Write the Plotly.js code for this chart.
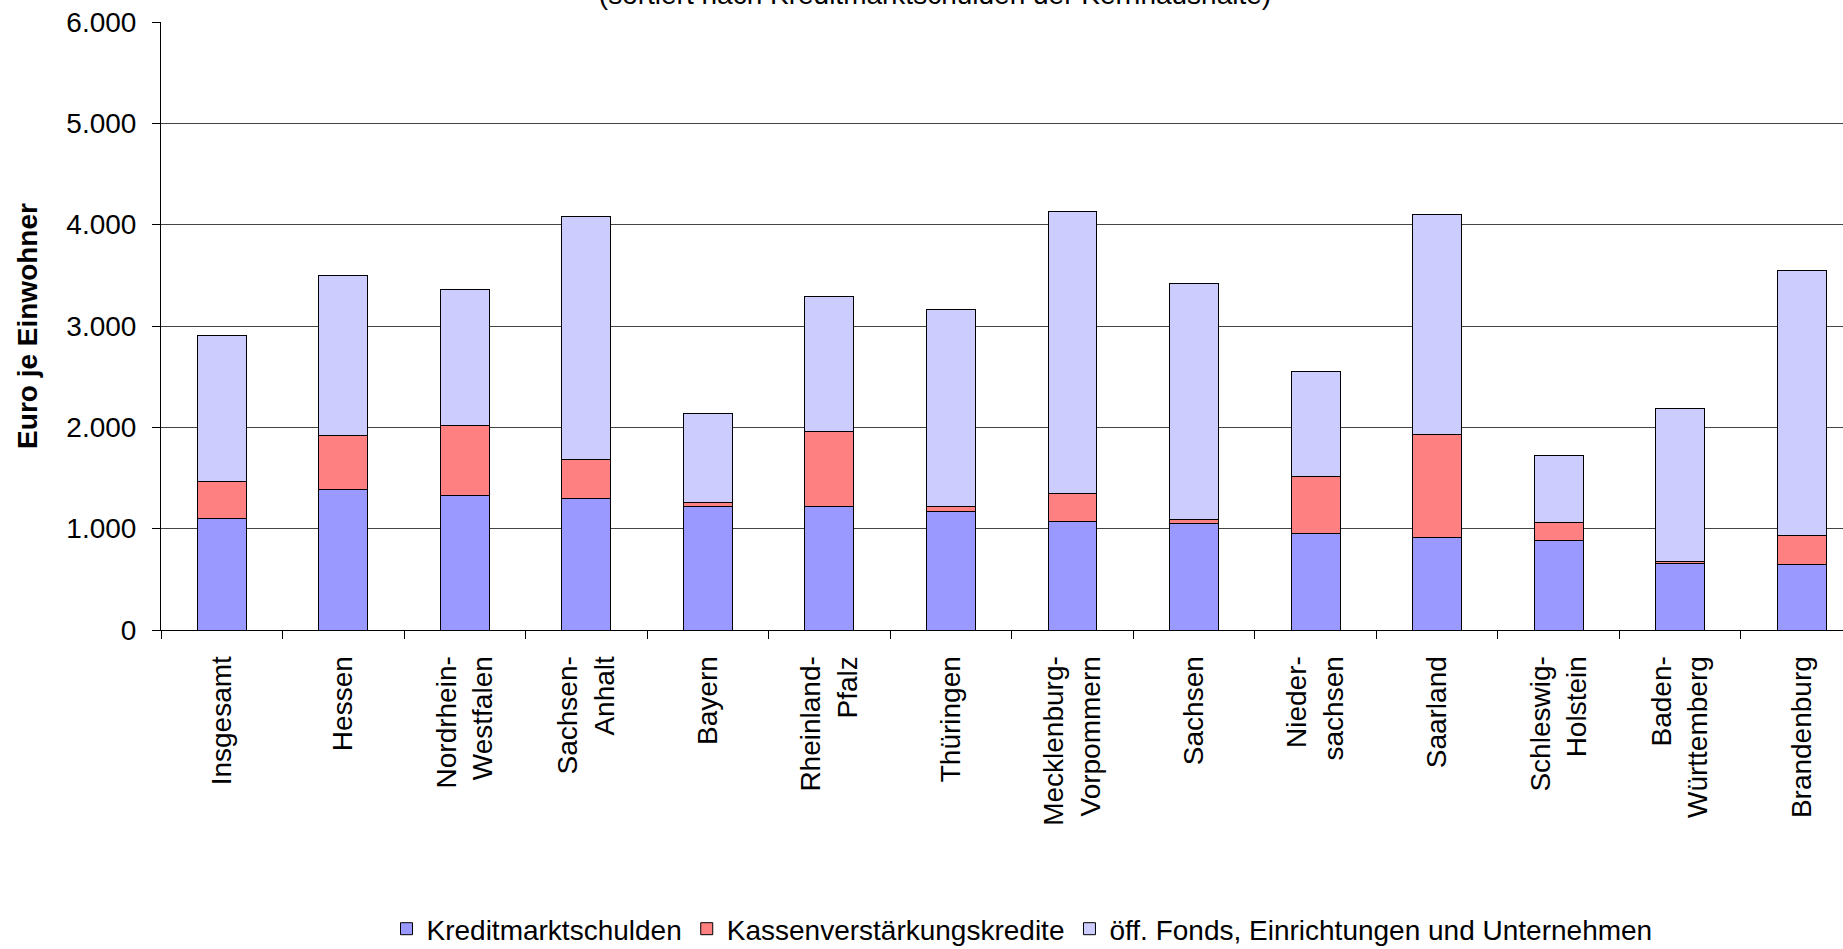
<!DOCTYPE html>
<html>
<head>
<meta charset="utf-8">
<script src="https://cdn.plot.ly/plotly-3.0.1.min.js"></script>
<style>
  html, body { margin: 0; padding: 0; background: #fff; }
  #chart { width: 1843px; height: 949px; }
</style>
</head>
<body>
<div id="chart"></div>
<script>
// Schulden der Kommunen je Einwohner nach Ländern (Euro)
const categories = [
  'Insgesamt', 'Hessen', 'Nordrhein-<br>Westfalen', 'Sachsen-<br>Anhalt', 'Bayern',
  'Rheinland-<br>Pfalz', 'Thüringen', 'Mecklenburg-<br>Vorpommern', 'Sachsen',
  'Nieder-<br>sachsen', 'Saarland', 'Schleswig-<br>Holstein', 'Baden-<br>Württemberg',
  'Brandenburg'
];

const kreditmarktschulden = [1103, 1389, 1323, 1294, 1218, 1215, 1172, 1067, 1054, 955, 915, 882, 658, 642];
const kassenkredite       = [365, 527, 692, 392, 36, 747, 49, 283, 32, 563, 1017, 181, 17, 293];
const fondsUnternehmen    = [1442, 1580, 1343, 2390, 883, 1330, 1943, 2782, 2335, 1033, 2170, 656, 1511, 2611];

const yTickVals  = [0, 1000, 2000, 3000, 4000, 5000, 6000];
const yTickTexts = ['0', '1.000', '2.000', '3.000', '4.000', '5.000', '6.000'];

const seriesNames = [
  'Kreditmarktschulden',
  'Kassenverstärkungskredite',
  'öff. Fonds, Einrichtungen und Unternehmen'
];
const seriesColors = ['#9999FF', '#FF8080', '#CCCCFF'];
const seriesValues = [kreditmarktschulden, kassenkredite, fondsUnternehmen];

const FONT = 'Liberation Sans, Arial, sans-serif';

const traces = seriesValues.map((vals, i) => ({
  type: 'bar',
  name: seriesNames[i],
  x: categories,
  y: vals,
  marker: { color: seriesColors[i], line: { color: '#000', width: 1 } },
  hoverinfo: 'x+y+name'
}));

const layout = {
  width: 1843,
  height: 949,
  barmode: 'stack',
  bargap: 0.597,
  paper_bgcolor: '#fff',
  plot_bgcolor: '#fff',
  margin: { l: 161, r: 0, t: 22, b: 319, pad: 0 },
  font: { family: FONT, size: 28, color: '#000' },
  title: {
    text: '(sortiert nach Kreditmarktschulden der Kernhaushalte)',
    font: { family: FONT, size: 28, color: '#000' },
    xref: 'paper', x: (935 - 161) / 1682, xanchor: 'center',
    yref: 'container', y: 1 - 4 / 949, yanchor: 'bottom',
    automargin: false
  },
  xaxis: {
    type: 'category',
    range: [-0.5, 13.34],
    tickson: 'boundaries',
    ticks: 'outside',
    ticklen: 8,
    tickcolor: '#000',
    tickwidth: 1,
    tickangle: -90,
    ticklabelstandoff: 14,
    tickfont: { family: FONT, size: 28, color: '#000' },
    showline: true,
    linecolor: '#000',
    linewidth: 1,
    showgrid: false,
    zeroline: false,
    automargin: false,
    fixedrange: true
  },
  yaxis: {
    range: [0, 6000],
    tickvals: yTickVals,
    ticktext: yTickTexts,
    ticks: 'outside',
    ticklen: 8,
    tickcolor: '#000',
    tickwidth: 1,
    ticklabelstandoff: 10,
    tickfont: { family: FONT, size: 28, color: '#000' },
    showline: true,
    linecolor: '#000',
    linewidth: 1,
    showgrid: true,
    gridcolor: '#444',
    gridwidth: 1,
    zeroline: false,
    title: {
      text: '<b>Euro je Einwohner</b>',
      font: { family: FONT, size: 28, color: '#000' },
      standoff: 20
    },
    automargin: false,
    fixedrange: true
  },
  showlegend: true,
  legend: {
    orientation: 'h',
    xref: 'paper',
    x: (1022 - 161) / 1682,
    xanchor: 'center',
    yref: 'container',
    y: 1 - 929 / 949,
    yanchor: 'middle',
    traceorder: 'normal',
    font: { family: FONT, size: 28, color: '#000' },
    itemwidth: 30,
    bgcolor: 'rgba(0,0,0,0)'
  }
};

Plotly.newPlot('chart', traces, layout, { displayModeBar: false, staticPlot: true });
</script>
</body>
</html>
